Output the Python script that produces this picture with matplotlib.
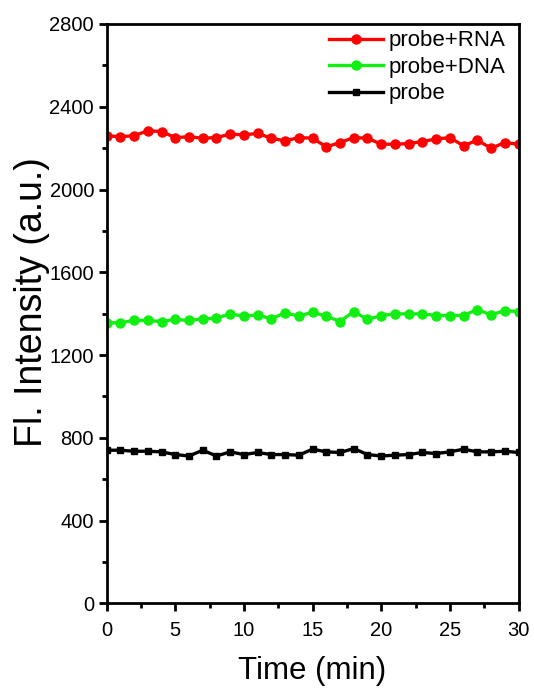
import matplotlib
matplotlib.use("Agg")
import matplotlib.pyplot as plt
from matplotlib.ticker import MultipleLocator

plt.rcParams['font.family'] = ['Liberation Sans', 'DejaVu Sans']

time_min = list(range(0, 31))

probe_rna = [2260, 2255, 2260, 2284, 2280, 2251, 2255, 2248, 2251, 2268,
             2264, 2271, 2248, 2235, 2251, 2248, 2206, 2227, 2251, 2248,
             2219, 2219, 2222, 2232, 2244, 2251, 2211, 2239, 2199, 2227,
             2219]

probe_dna = [1356, 1356, 1367, 1367, 1362, 1372, 1367, 1375, 1378, 1399,
             1388, 1394, 1375, 1404, 1388, 1407, 1388, 1362, 1410, 1372,
             1391, 1399, 1399, 1399, 1391, 1391, 1391, 1420, 1394, 1415,
             1410]

probe = [740, 740, 735, 735, 732, 719, 712, 740, 712, 732,
         719, 729, 719, 719, 716, 745, 732, 729, 748, 719,
         712, 716, 719, 729, 724, 732, 745, 732, 732, 735,
         729]

fig = plt.figure(figsize=(5.34, 6.93), dpi=100)
ax = fig.add_axes([0.1996, 0.1294, 0.7714, 0.836])

ax.plot(time_min, probe_rna, color='#ff0000', lw=2.4, marker='o', ms=6.5,
        label='probe+RNA')
ax.plot(time_min, probe_dna, color='#11ee11', lw=2.4, marker='o', ms=6.5,
        label='probe+DNA')
ax.plot(time_min, probe, color='black', lw=2.4, marker='s', ms=5,
        label='probe')

ax.set_xlim(0, 30)
ax.set_ylim(0, 2800)
ax.xaxis.set_major_locator(MultipleLocator(5))
ax.xaxis.set_minor_locator(MultipleLocator(2.5))
ax.yaxis.set_major_locator(MultipleLocator(400))
ax.yaxis.set_minor_locator(MultipleLocator(200))

for s in ax.spines.values():
    s.set_linewidth(2.0)
ax.tick_params(which='both', direction='out', width=2.0, top=False, right=False,
               labelsize=14.5)
ax.tick_params(which='major', length=6)
ax.tick_params(which='minor', length=3.5)
ax.tick_params(axis='x', which='major', pad=6.5)
ax.tick_params(axis='y', which='major', pad=3)

ax.set_xlabel('Time (min)', fontsize=22.5, labelpad=12)
ax.set_ylabel('Fl. Intensity (a.u.)', fontsize=27)
ax.yaxis.set_label_coords(-0.137, 0.52)

ax.legend(loc='upper right', frameon=False, fontsize=16, handlelength=2.4,
          handletextpad=0.25, labelspacing=0.25, borderaxespad=0.2,
          bbox_to_anchor=(1.0, 1.012))

fig.savefig('out.png', dpi=100)
